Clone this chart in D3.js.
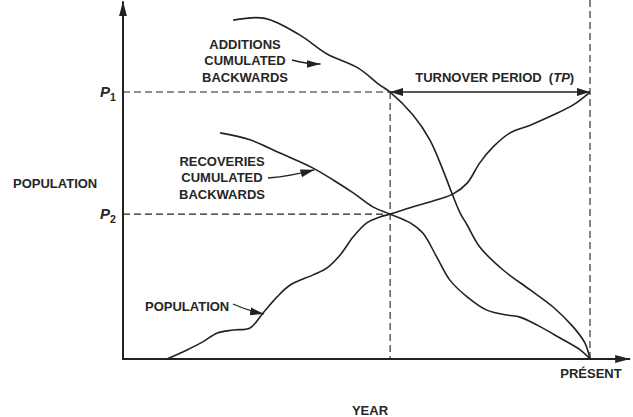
<!DOCTYPE html>
<html>
<head>
<meta charset="utf-8">
<script src="https://cdn.jsdelivr.net/npm/d3@7"></script>
<style>
html,body{margin:0;padding:0;background:#fff;}
svg text{font-family:"Liberation Sans",Arial,sans-serif;font-weight:bold;fill:#262626;white-space:pre;}
</style>
</head>
<body>
<svg id="chart" width="633" height="417"></svg>
<script>
// Schematic data (year 0..100 = present, population 0..100)
const additionsYear = [23.6,30.4,37.9,43.7,50.3,55.0,57.2,62.1,65.7,68.5,70.4,72.2,73.7,76.4,81.4,87.2,92.1,96.4,98.9,100];
const additionsVal  = [97.1,97.6,92.8,87.4,83.4,78.5,76.5,69.9,62.8,54.2,47.6,41.8,38.4,32.1,25.5,19.8,14.9,9.2,4.6,0];
const recoveriesYear = [20.8,27.2,33.6,40.7,45.0,49.3,53.5,57.2,61.5,64.2,67.2,70.0,73.7,77.9,82.2,85.0,88.7,93.6,97.9,100];
const recoveriesVal  = [64.8,62.8,59.0,54.7,51.3,47.6,43.6,41.5,39.0,36.1,29.2,22.6,17.8,14.0,12.6,12.0,9.7,6.0,2.6,0];
const populationYear = [9.4,13.7,17.1,20.1,23.6,27.2,30.0,33.0,35.8,40.7,43.7,46.5,49.3,52.2,55.0,57.2,62.1,67.2,70.7,73.7,76.4,79.2,82.9,87.2,92.1,96.4,100];
const populationVal  = [0,2.6,4.9,7.4,8.3,8.9,13.2,17.8,21.2,24.1,26.1,29.8,35.0,39.0,40.7,41.5,43.6,45.6,47.3,50.4,56.2,60.7,64.8,67.0,69.9,72.8,76.5];
const levelLabels = ["P1","P2"];
const levelValues = [76.5,41.5];
const tpStartYear = 57.2;
const presentYear = 100;

const svg = d3.select("#chart");
const x = d3.scaleLinear().domain([0,100]).range([123,590]);
const y = d3.scaleLinear().domain([0,100]).range([359,10]);
const ink = "#222";
const fs = 13, ls = 0;

// markers
const defs = svg.append("defs");
function marker(id, w, h){
  defs.append("marker").attr("id",id).attr("viewBox",`0 0 ${w} ${h}`)
    .attr("refX",w).attr("refY",h/2).attr("markerWidth",w).attr("markerHeight",h)
    .attr("markerUnits","userSpaceOnUse").attr("orient","auto-start-reverse")
    .append("path").attr("d",`M0,0L${w},${h/2}L0,${h}Z`).attr("fill",ink);
}
marker("axisHead",15,8);
marker("tpHead",13,8);
marker("lblHead",14,8);

// dashed guide lines
const dash = "7,4";
levelValues.forEach(v=>{
  svg.append("line").attr("x1",x(0)).attr("x2",x(tpStartYear)).attr("y1",y(v)).attr("y2",y(v))
    .attr("stroke",ink).attr("stroke-width",1.1).attr("stroke-dasharray",dash);
});
svg.append("line").attr("x1",x(tpStartYear)).attr("x2",x(tpStartYear)).attr("y1",y(levelValues[0])).attr("y2",y(0))
  .attr("stroke",ink).attr("stroke-width",1.1).attr("stroke-dasharray",dash);
svg.append("line").attr("x1",x(presentYear)).attr("x2",x(presentYear)).attr("y1",y(102.9)).attr("y2",y(0))
  .attr("stroke",ink).attr("stroke-width",1.1).attr("stroke-dasharray",dash);

// axes
svg.append("line").attr("x1",x(0)).attr("x2",x(0)).attr("y1",y(0)+1).attr("y2",y(102.5))
  .attr("stroke",ink).attr("stroke-width",2).attr("marker-end","url(#axisHead)");
svg.append("line").attr("x1",x(0)-1).attr("x2",x(108.6)).attr("y1",y(0)).attr("y2",y(0))
  .attr("stroke",ink).attr("stroke-width",2).attr("marker-end","url(#axisHead)");

// curves
const line = d3.line().x(d=>x(d[0])).y(d=>y(d[1])).curve(d3.curveCatmullRom.alpha(0.5));
[[additionsYear,additionsVal],[recoveriesYear,recoveriesVal],[populationYear,populationVal]].forEach(([xs,vs])=>{
  svg.append("path").datum(d3.zip(xs,vs)).attr("d",line)
    .attr("fill","none").attr("stroke",ink).attr("stroke-width",1.6);
});

// turnover arrow
svg.append("line").attr("x1",x(tpStartYear)).attr("x2",x(presentYear)).attr("y1",y(levelValues[0])).attr("y2",y(levelValues[0]))
  .attr("stroke",ink).attr("stroke-width",1.5)
  .attr("marker-start","url(#tpHead)").attr("marker-end","url(#tpHead)");
const tp = svg.append("text").attr("x",x(79.6)).attr("y",y(levelValues[0])-10).attr("text-anchor","middle")
  .attr("font-size",fs).attr("letter-spacing",ls);
tp.append("tspan").text("TURNOVER PERIOD  (");
tp.append("tspan").attr("font-style","italic").text("TP");
tp.append("tspan").text(")");

// P labels
levelValues.forEach((v,i)=>{
  const t = svg.append("text").attr("x",x(0)-23).attr("y",y(v)+5).attr("font-size",15)
    .attr("font-style","italic").attr("font-weight","normal");
  t.append("tspan").text("P");
  t.append("tspan").attr("font-size",10.5).attr("font-style","normal").attr("dy",4).text(levelLabels[i].slice(1));
});

// multi-line labels
function label(lines, cx, cy){
  const t = svg.append("text").attr("text-anchor","middle").attr("font-size",fs).attr("letter-spacing",ls);
  lines.forEach((l,i)=>{
    t.append("tspan").attr("x",cx).attr("y",cy + (i-(lines.length-1)/2)*16.5 + 5).text(l);
  });
}
label(["ADDITIONS","CUMULATED","BACKWARDS"], 245, 60);
label(["RECOVERIES","CUMULATED","BACKWARDS"], 222, 177);
svg.append("text").attr("x",145).attr("y",311).attr("font-size",fs).attr("letter-spacing",ls).text("POPULATION");
svg.append("text").attr("x",13).attr("y",188).attr("font-size",fs).attr("letter-spacing",ls).text("POPULATION");
svg.append("text").attr("x",591).attr("y",378).attr("text-anchor","middle").attr("font-size",fs).attr("letter-spacing",ls).text("PRÉSENT");
svg.append("text").attr("x",370).attr("y",415).attr("text-anchor","middle").attr("font-size",fs).attr("letter-spacing",ls).text("YEAR");

// label pointer arrows
function pointer(x1,y1,x2,y2){
  svg.append("path").attr("d",`M${x1},${y1}Q${(x1+x2)/2},${(y1+y2)/2+2} ${x2},${y2}`)
    .attr("fill","none").attr("stroke",ink).attr("stroke-width",1.3).attr("marker-end","url(#lblHead)");
}
pointer(292,60,x(42.3),y(85.1)+2);
pointer(268,178,x(41.0),y(54.5)+1);
pointer(233,304,x(30.2),y(12.9));
</script>
</body>
</html>
